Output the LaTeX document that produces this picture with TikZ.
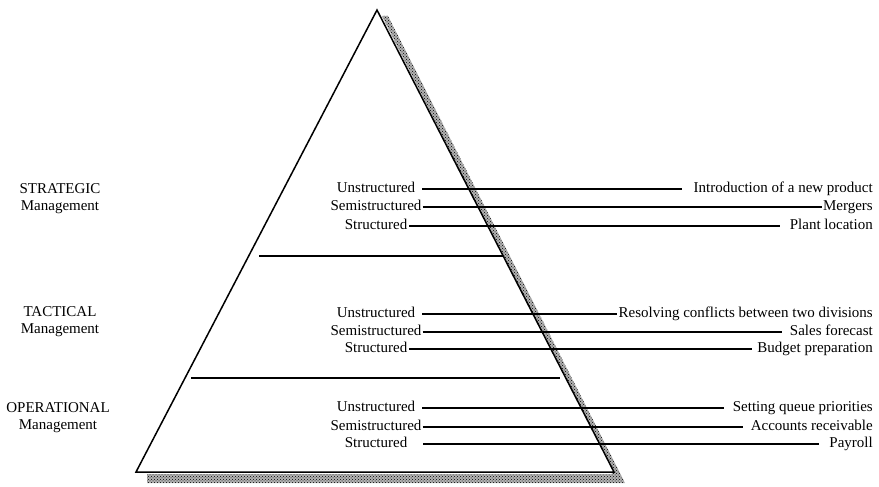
\documentclass[tikz,border=0pt]{standalone}
\usepackage{fontspec}
\setmainfont{Liberation Serif}
\usetikzlibrary{patterns}
\begin{document}
\begin{tikzpicture}[x=1pt,y=-1pt,
  font=\fontsize{15}{17}\selectfont,
  edge/.style={line width=1.5pt, line join=miter},
  rowline/.style={line width=1.2pt},
  divider/.style={line width=1.3pt},
  level/.style={align=center, inner sep=0pt},
  kind/.style={inner sep=0pt, text height=1.7ex, text depth=0.2ex},
  example/.style={anchor=east, inner sep=0pt, text height=1.7ex, text depth=0.2ex},
  shade/.style={fill=black!30, postaction={pattern=crosshatch dots, pattern color=black}}]

\useasboundingbox (0,0) rectangle (879,487);

% pyramid corners
\coordinate (top) at (377,10);
\coordinate (bl)  at (136,472);
\coordinate (br)  at (614,472);

% dotted drop shadow along the right side and under the base
\path[shade] (382,16) -- (388,16) -- (625,483) -- (147,483) -- (147,474) -- (612,474) -- cycle;

% the pyramid itself
\filldraw[edge, fill=white] (top) -- (bl) -- (br) -- cycle;

% level dividers
\coordinate (d1a) at (259,256);
\coordinate (d1b) at (503,256);
\coordinate (d2a) at (191,378);
\coordinate (d2b) at (560,378);
\draw[divider] (d1a) -- (d1b);
\draw[divider] (d2a) -- (d2b);

% management levels
\node[level] (lvS) at (60,199) {STRATEGIC\\Management};
\node[level] (lvT) at (60,322) {TACTICAL\\Management};
\node[level] (lvO) at (58,418) {OPERATIONAL\\Management};

% decision types and example decisions
\foreach \y/\k/\dx/\ex/\g [count=\i] in {
  189/Unstructured/7/Introduction of a new product/11,
  207/Semistructured/1/Mergers/1,
  226/Structured/2/Plant location/10,
  314/Unstructured/7/Resolving conflicts between two divisions/1,
  332/Semistructured/1/Sales forecast/8,
  349/Structured/2/Budget preparation/5,
  408/Unstructured/7/Setting queue priorities/9,
  427/Semistructured/1/Accounts receivable/8,
  444/Structured/16/Payroll/10}{
  \node[kind] (k\i) at (376,\y) {\k};
  \node[example] (e\i) at (873,\y) {\ex};
  \draw[rowline] ([xshift=\dx pt]k\i.east) -- ([xshift=-\g pt]e\i.west);
}
\end{tikzpicture}
\end{document}
